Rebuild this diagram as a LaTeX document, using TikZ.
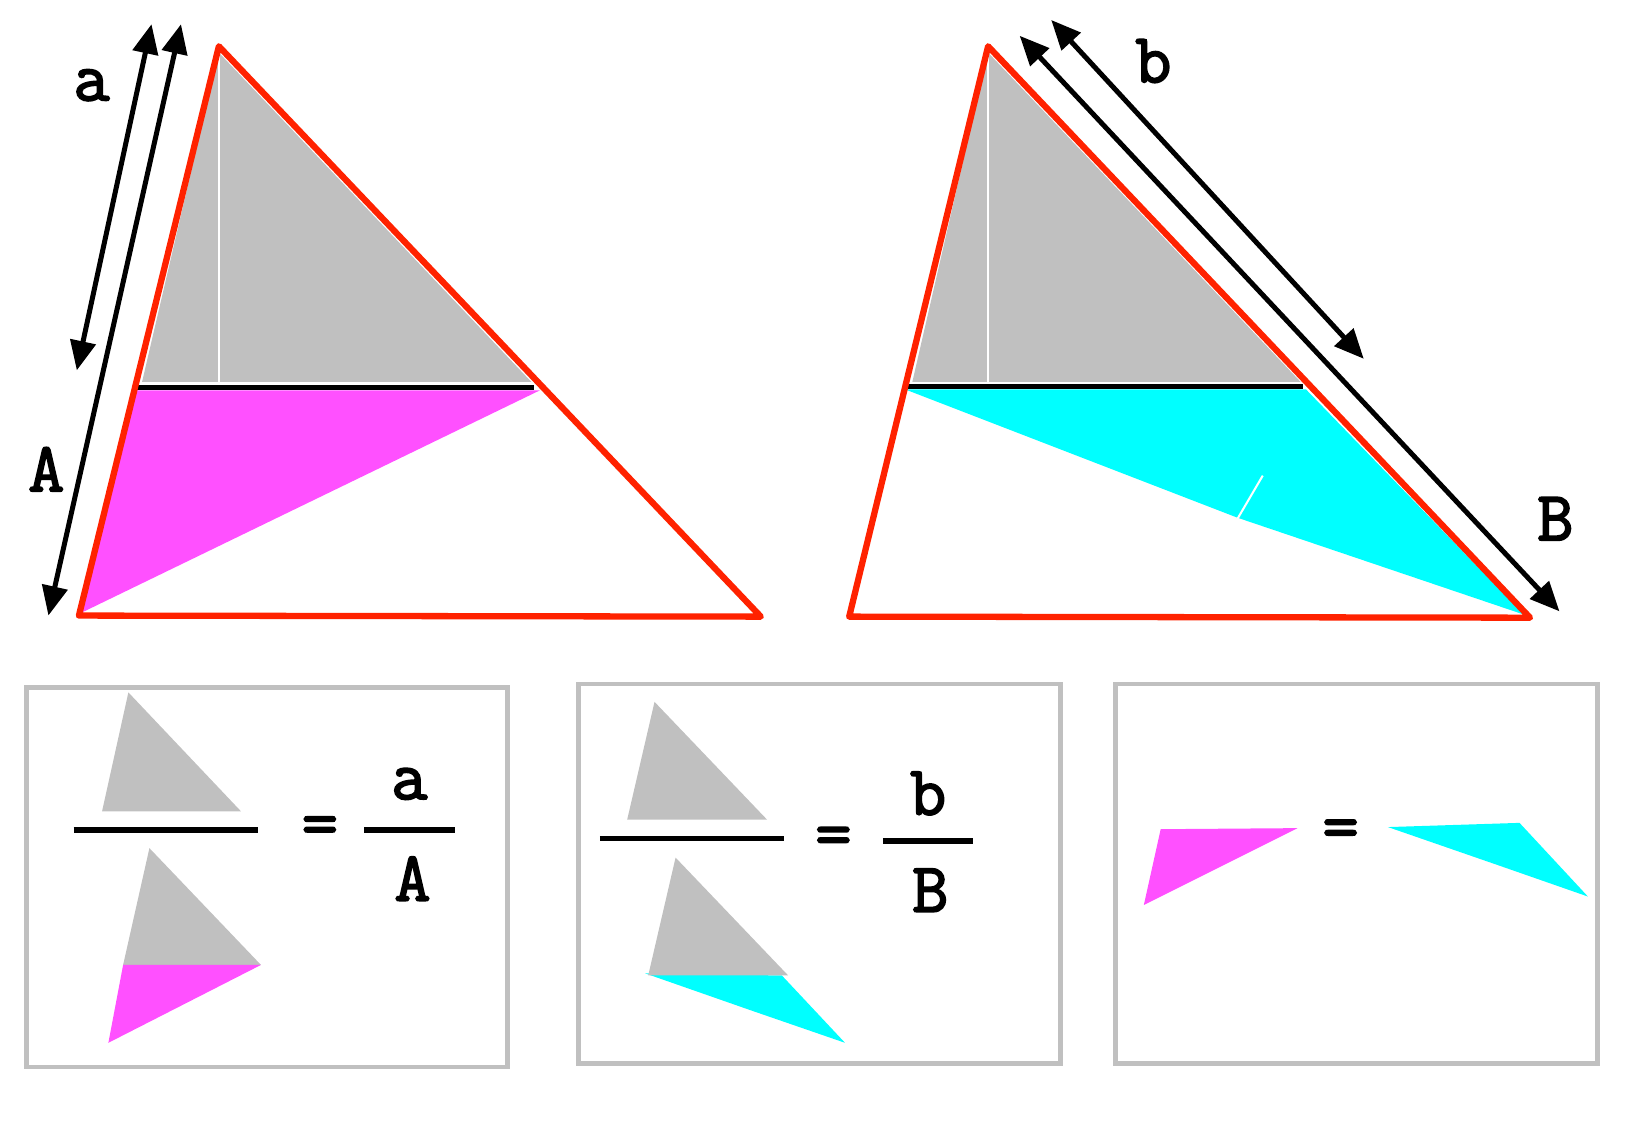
\documentclass[tikz,border=0pt]{standalone}
\usepackage{fontspec}
\newfontfamily\lblfont[FakeBold=2.5]{Latin Modern Mono}
\usetikzlibrary{arrows.meta}
\definecolor{redline}{RGB}{255,34,0}
\definecolor{pinkfill}{RGB}{255,80,255}
\definecolor{cyanfill}{RGB}{0,255,255}
\definecolor{greyfill}{RGB}{192,192,192}

\begin{document}
\begin{tikzpicture}[x=0.01cm,y=-0.01cm,
    side/.style={redline,line width=1.7pt,line join=round},
    measure/.style={{Triangle[length=0.28cm,width=0.24cm]}-{Triangle[length=0.28cm,width=0.24cm]},line width=1.35pt},
    lbl/.style={font=\lblfont\fontsize{19}{19}\selectfont,inner sep=0pt},
    framebox/.style={draw=greyfill,line width=1.3pt},
    bar/.style={line width=1.5pt},
    seam/.style={white,line width=0.45pt}]
  \useasboundingbox (0,0) rectangle (1568,1068);

  %Left triangle
  \coordinate (LA) at (208,44);
  \coordinate (LB) at (75,585);
  \coordinate (LC) at (723,586);
  \coordinate (LM) at (129,368);
  \coordinate (LN) at (513,369);
  \fill[greyfill] (208,50) -- (135,363) -- (505,363) -- cycle;
  \draw[seam] (208,50) -- (208,363);
  \fill[pinkfill] (129,371) -- (513,371) -- (78,582) -- cycle;
  \draw[line width=1.4pt] (LM) -- (507,368);
  \draw[side] (LA) -- (LB) -- (LC) -- cycle;

  %Right triangle
  \coordinate (RA) at (939,44);
  \coordinate (RB) at (807,586);
  \coordinate (RC) at (1454,587);
  \coordinate (RM) at (860,367);
  \coordinate (RN) at (1241,369);
  \fill[greyfill] (939,50) -- (867,363) -- (1236,363) -- cycle;
  \draw[seam] (939,50) -- (939,363);
  \fill[cyanfill] (860,370) -- (1241,370) -- (1448,584) -- (1176,492) -- cycle;
  \draw[white,line width=0.55pt] (1176,493) -- (1200,452);
  \draw[line width=1.4pt] (RM) -- (1238,367);
  \draw[side] (RA) -- (RB) -- (RC) -- cycle;

  %Measures
  \coordinate (a1) at (144,23);
  \coordinate (a2) at (73,352);
  \coordinate (A1) at (172,23);
  \coordinate (A2) at (46,585);
  \coordinate (b1) at (999,19);
  \coordinate (b2) at (1296,341);
  \coordinate (B1) at (969,34);
  \coordinate (B2) at (1482,581);
  \draw[measure] (a1) -- (a2);
  \draw[measure] (A1) -- (A2);
  \draw[measure] (b1) -- (b2);
  \draw[measure] (B1) -- (B2);
  \node[lbl] (la) at (87,81) {a};
  \node[lbl] (lA) at (44,446) {A};
  \node[lbl] (lb) at (1096,58) {b};
  \node[lbl] (lB) at (1478,493) {B};

  %Box 1
  \draw[framebox] (25,653) rectangle (482,1014);
  \fill[greyfill] (122,658) -- (97,771) -- (229,771) -- cycle;
  \draw[bar] (70,789) -- (245,789);
  \node[lbl] (eq1) at (304,790) {=};
  \draw[bar] (346,789) -- (432,789);
  \node[lbl] (fa) at (389,745) {a};
  \node[lbl] (fA) at (392,835) {A};
  \fill[greyfill] (142,806) -- (117,917) -- (248,917) -- cycle;
  \fill[pinkfill] (117,917) -- (248,917) -- (103,991) -- cycle;

  %Box 2
  \draw[framebox] (550,650) rectangle (1008,1011);
  \fill[greyfill] (622,667) -- (596,779) -- (729,779) -- cycle;
  \draw[bar] (570,797) -- (745,797);
  \node[lbl] (eq2) at (792,800) {=};
  \draw[bar] (839,799) -- (925,799);
  \node[lbl] (fb) at (882,754) {b};
  \node[lbl] (fB) at (884,846) {B};
  \fill[cyanfill] (613,925) -- (743,927) -- (803,991) -- (716,961) -- cycle;
  \fill[greyfill] (642,815) -- (616,927) -- (749,927) -- cycle;

  %Box 3
  \draw[framebox] (1060,650) rectangle (1518,1011);
  \fill[pinkfill] (1103,788) -- (1233,787) -- (1087,860) -- cycle;
  \node[lbl] (eq3) at (1274,793) {=};
  \fill[cyanfill] (1319,786) -- (1444,782) -- (1509,852) -- (1423,822) -- cycle;
\end{tikzpicture}
\end{document}
